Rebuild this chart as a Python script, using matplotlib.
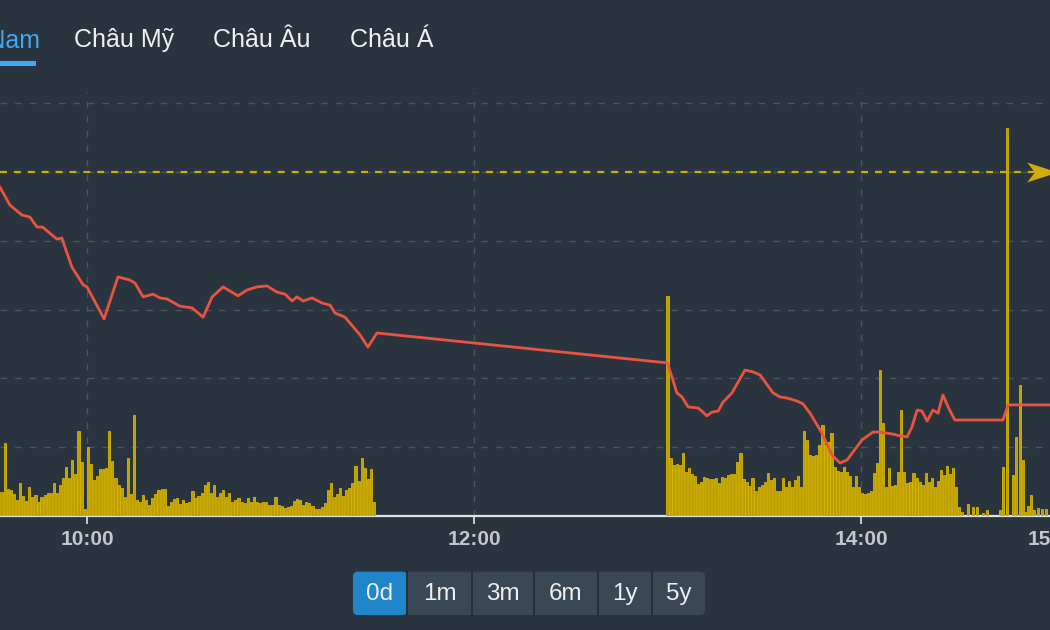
import matplotlib
matplotlib.use("Agg")
import matplotlib.pyplot as plt
import numpy as np
import pandas as pd
from matplotlib.patches import FancyBboxPatch, Rectangle
from matplotlib.path import Path

plt.rcParams['font.family'] = ['Liberation Sans', 'DejaVu Sans']
plt.rcParams['lines.scale_dashes'] = False

BG = '#29343f'
GRID = '#4a545e'
PRICE_CLR = '#ea5340'
VOL_CLR = '#bd9f00'
VOL_EDGE = '#d6b500'
REF_CLR = '#cfac0c'
TEXT_CLR = '#c3c7cc'
BLUE = '#3fa9f5'

# intraday index (price line)
PRICE_TIMES = [
    '09:33:00', '09:36:06', '09:39:48', '09:42:18', '09:44:30', '09:46:12',
    '09:50:42', '09:52:12', '09:55:18', '09:58:48', '10:00:00', '10:05:18',
    '10:09:36', '10:13:18', '10:14:54', '10:17:24', '10:20:30', '10:22:36',
    '10:24:48', '10:28:48', '10:32:36', '10:36:00', '10:38:48', '10:42:12',
    '10:46:48', '10:49:36', '10:52:42', '10:55:48', '10:58:54', '11:01:24',
    '11:03:36', '11:05:06', '11:07:00', '11:09:48', '11:12:54', '11:15:24',
    '11:16:54', '11:20:00', '11:24:42', '11:27:06', '11:29:54',
    '13:00:00', '13:02:54', '13:04:30', '13:06:24', '13:09:30', '13:11:00',
    '13:12:12', '13:13:48', '13:15:42', '13:17:12', '13:20:00', '13:24:00',
    '13:26:30', '13:28:42', '13:32:42', '13:34:54', '13:37:06', '13:40:12',
    '13:42:00', '13:44:12', '13:47:54', '13:51:00', '13:53:30', '13:55:42',
    '13:57:30', '14:00:18', '14:03:42', '14:05:54', '14:09:54', '14:12:06',
    '14:14:18', '14:15:48', '14:17:24', '14:18:54', '14:20:30', '14:22:18',
    '14:23:54', '14:25:24', '14:27:00', '14:29:06', '14:44:00', '14:45:36',
    '14:59:00',
]
PRICES = [
    1179.56, 1179.04, 1178.75, 1178.69, 1178.40, 1178.40,
    1178.05, 1178.08, 1177.24, 1176.72, 1176.66, 1175.73,
    1176.95, 1176.86, 1176.77, 1176.37, 1176.45, 1176.34,
    1176.31, 1176.10, 1176.05, 1175.78, 1176.37, 1176.66,
    1176.40, 1176.57, 1176.66, 1176.69, 1176.51, 1176.45,
    1176.25, 1176.37, 1176.25, 1176.34, 1176.19, 1176.13,
    1175.90, 1175.78, 1175.26, 1174.91, 1175.32,
    1174.45, 1173.58, 1173.46, 1173.17, 1173.14, 1173.02,
    1172.91, 1173.02, 1173.05, 1173.31, 1173.58, 1174.24,
    1174.19, 1174.10, 1173.58, 1173.46, 1173.43, 1173.34,
    1173.26, 1172.99, 1172.41, 1171.77, 1171.54, 1171.63,
    1171.86, 1172.21, 1172.44, 1172.44, 1172.38, 1172.33,
    1172.30, 1172.59, 1173.08, 1173.05, 1172.76, 1173.08,
    1172.99, 1173.52, 1173.17, 1172.79, 1172.79, 1173.23,
    1173.23,
]
REF_PRICE = 1180.0

# per-minute volume, morning session (09:33 -> 11:29)
MORNING_START, MORNING_END = '09:33:30', '11:29:00'
MORNING_VOL = [
    24, 73, 27, 26, 22, 16, 33, 20, 15, 29, 19, 21, 14, 19, 21, 23, 23, 33,
    23, 31, 38, 49, 38, 56, 42, 85, 54, 7, 69, 52, 36, 40, 47, 47, 48, 85,
    55, 38, 31, 28, 19,
    58, 22, 101, 16, 14, 21, 16, 11, 18, 22, 26, 27, 27, 10, 14, 17, 18, 12,
    16, 13, 14, 25, 18, 20, 23, 31, 34, 23, 31, 19, 23, 26, 19, 23, 14, 16,
    18, 14, 13, 18, 14,
    19, 14, 13, 14, 14, 11, 11, 19, 11, 10, 8, 9, 10, 15, 17, 16, 11, 14,
    13, 10, 7, 7, 9, 13, 26, 33, 19, 22, 28, 20, 26, 28, 33, 50, 35, 58,
    48, 37, 47, 14,
]
# afternoon session (13:00 -> 14:30)
AFTERNOON_START, AFTERNOON_END = '13:00:00', '14:30:24'
AFTERNOON_VOL = [
    220,
    58, 51, 52, 51, 63, 44, 48, 42, 40, 32, 34, 39, 38, 37, 37, 38, 33, 39,
    38, 41, 42, 42, 54, 63, 37, 34, 30, 38, 25, 29, 31, 34, 43, 36, 38, 25,
    25, 38, 29, 35, 29, 36, 40, 29, 85,
    76, 61, 60, 61, 71, 91, 71, 74, 83, 49, 45, 44, 49, 44, 40, 29, 40, 29,
    23, 22, 23, 25, 43, 53, 146, 93, 29, 48, 30, 31, 44, 106, 44, 33, 34,
    43, 38, 34, 31, 43, 34, 38, 29, 35, 46, 41, 50, 42, 48, 29, 9,
]
# ATC / after-hours prints
LATE_TIMES = [
    '14:31:12', '14:33:12', '14:34:42', '14:36:00', '14:37:48', '14:39:06',
    '14:43:06', '14:44:00', '14:45:18', '14:47:06', '14:48:06', '14:49:18',
    '14:50:12', '14:51:12', '14:51:48', '14:52:42', '14:53:36', '14:54:54',
    '14:56:06', '14:57:24',
]
LATE_VOL = [4, 12, 9, 9, 3, 6, 6, 49, 388, 41, 79, 131, 56, 4, 10, 21, 6,
            8, 7, 7]

TICK_HOURS = [10, 12, 14, 15]
TICK_LABELS = ['10:00', '12:00', '14:00', '15:00']
GRID_HOURS = [10, 12, 14]
TABS = ['Việt Nam', 'Châu Mỹ', 'Châu Âu', 'Châu Á']
BUTTONS = ['0d', '1m', '3m', '6m', '1y', '5y']


def to_hours(times):
    return pd.to_timedelta(pd.Series(times)).dt.total_seconds().to_numpy() / 3600


fig = plt.figure(figsize=(10.5, 6.3), dpi=100, facecolor=BG)

# chart spans past both figure edges (the widget is cropped)
pos = [0.0, 0.18095, 1.02267, 0.6730]
ax = fig.add_axes(pos, facecolor=BG)
vax = ax.twinx()
pax = ax.twinx()

xlim = (9.5504, 15.0997)
for a in (ax, vax, pax):
    a.set_xlim(*xlim)
    for s in a.spines.values():
        s.set_visible(False)
    a.tick_params(axis='y', left=False, right=False,
                  labelleft=False, labelright=False)

ax.set_ylim(1170, 1182.326)
pax.set_ylim(1170, 1182.326)
vax.set_ylim(0, 424)

# grid
for g in np.arange(1172, 1183, 2):
    ax.axhline(g, color=GRID, lw=1.0, dashes=(4.7, 5.8), zorder=0)
for h in GRID_HOURS:
    ax.axvline(h, color=GRID, lw=1.0, dashes=(4.7, 5.8), zorder=0)

# volume bars
m_t = np.linspace(to_hours([MORNING_START])[0], to_hours([MORNING_END])[0],
                  len(MORNING_VOL))
a_t = np.linspace(to_hours([AFTERNOON_START])[0],
                  to_hours([AFTERNOON_END])[0], len(AFTERNOON_VOL))
l_t = to_hours(LATE_TIMES)
bar_t = np.concatenate([m_t, a_t, l_t])
bar_v = np.concatenate([MORNING_VOL, AFTERNOON_VOL, LATE_VOL])
vax.bar(bar_t, bar_v, width=0.0115, color=VOL_CLR, edgecolor=VOL_EDGE,
        linewidth=0.6, align='center')

# price + reference line
pax.plot(to_hours(PRICE_TIMES), PRICES, color=PRICE_CLR, lw=2.0,
         solid_joinstyle='round', zorder=3)
pax.axhline(REF_PRICE, color=REF_CLR, lw=1.6, dashes=(5, 5), zorder=4)
arrow = Path([(-1, 0.65), (1, 0), (-1, -0.65), (-0.5, 0), (-1, 0.65)],
             [Path.MOVETO, Path.LINETO, Path.LINETO, Path.LINETO,
              Path.CLOSEPOLY])
pax.plot([14.9375], [REF_PRICE], marker=arrow, markersize=22,
         color=REF_CLR, markeredgewidth=0, zorder=5)

# x axis
ax.spines['bottom'].set_visible(True)
ax.spines['bottom'].set_color('#dfe3e6')
ax.spines['bottom'].set_linewidth(1.6)
ax.set_xticks(TICK_HOURS)
ax.set_xticklabels(TICK_LABELS, fontweight='bold')
ax.tick_params(axis='x', colors='#e4e7ea', length=6, width=1.2, pad=4,
               labelsize=15, labelcolor=TEXT_CLR)
for a in (vax, pax):
    a.tick_params(axis='x', bottom=False, labelbottom=False)

# header tabs
fig.text(40.5 / 1050, 1 - 47 / 630, TABS[0], color=BLUE, fontsize=18,
         ha='right', va='baseline')
for label, x in zip(TABS[1:], [74, 213, 350]):
    fig.text(x / 1050, 1 - 47 / 630, label, color='#eef0f2', fontsize=18,
             ha='left', va='baseline')

# overlay in pixel coords for widget chrome
ui = fig.add_axes([0, 0, 1, 1], facecolor='none')
ui.set_xlim(0, 1050)
ui.set_ylim(630, 0)
ui.axis('off')
ui.add_patch(Rectangle((0, 60.5), 36, 5, color=BLUE, lw=0))

edges = [353, 407, 472, 534, 598, 652, 705]
top, h = 571.7, 43.3
ui.add_patch(FancyBboxPatch((edges[0], top), edges[-1] - edges[0], h,
                            boxstyle='round,pad=0,rounding_size=5',
                            fc='#3a4754', ec='none'))
ui.add_patch(FancyBboxPatch((edges[0], top), edges[1] - edges[0], h,
                            boxstyle='round,pad=0,rounding_size=5',
                            fc='#1f87c9', ec='none'))
for x in edges[1:-1]:
    ui.plot([x, x], [top, top + h], color='#252f39', lw=1.4)
for label, x0, x1 in zip(BUTTONS, edges[:-1], edges[1:]):
    ui.text((x0 + x1) / 2, top + h / 2 + 1, label, color='#eceef0',
            fontsize=17.5, ha='center', va='center')

fig.savefig('out.png', dpi=100, facecolor=BG)
